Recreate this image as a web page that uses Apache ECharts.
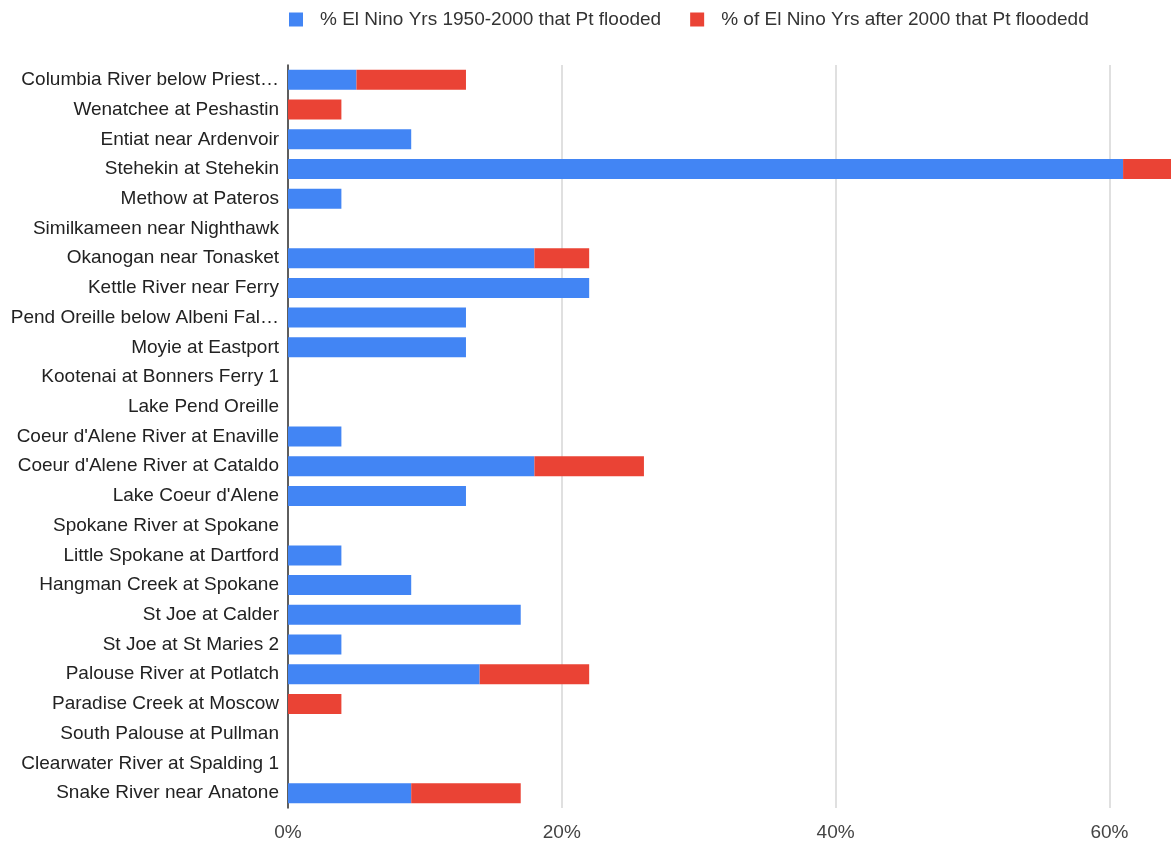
<!DOCTYPE html>
<html>
<head>
<meta charset="utf-8">
<script src="https://cdn.jsdelivr.net/npm/echarts@6/dist/echarts.min.js"></script>
<style>
  html, body { margin: 0; padding: 0; background: #fff; }
  #main { width: 1171px; height: 844px; }
</style>
</head>
<body>
<div id="main"></div>
<script>
// river gauge points, top to bottom
const sites = [
  'Columbia River below Priest…',
  'Wenatchee at Peshastin',
  'Entiat near Ardenvoir',
  'Stehekin at Stehekin',
  'Methow at Pateros',
  'Similkameen near Nighthawk',
  'Okanogan near Tonasket',
  'Kettle River near Ferry',
  'Pend Oreille below Albeni Fal…',
  'Moyie at Eastport',
  'Kootenai at Bonners Ferry 1',
  'Lake Pend Oreille',
  "Coeur d'Alene River at Enaville",
  "Coeur d'Alene River at Cataldo",
  "Lake Coeur d'Alene",
  'Spokane River at Spokane',
  'Little Spokane at Dartford',
  'Hangman Creek at Spokane',
  'St Joe at Calder',
  'St Joe at St Maries 2',
  'Palouse River at Potlatch',
  'Paradise Creek at Moscow',
  'South Palouse at Pullman',
  'Clearwater River at Spalding 1',
  'Snake River near Anatone'
];

// % of El Nino years 1950-2000 that the point flooded
const before2000 = [5, 0, 9, 61, 3.9, 0, 18, 22, 13, 13, 0, 0, 3.9, 18, 13, 0, 3.9, 9, 17, 3.9, 14, 0, 0, 0, 9];
// % of El Nino years after 2000 that the point flooded
const after2000 = [8, 3.9, 0, 8, 0, 0, 4, 0, 0, 0, 0, 0, 0, 8, 0, 0, 0, 0, 0, 0, 8, 3.9, 0, 0, 8];

const seriesNames = [
  '% El Nino Yrs 1950-2000 that Pt flooded',
  '% of El Nino Yrs after 2000 that Pt floodedd'
];

const xTicks = { min: 0, max: 64.5, step: 20 };

const font = 'Liberation Sans, Arial, sans-serif';

myChart = echarts.init(document.getElementById('main'));
myChart.setOption({
  animation: false,
  textStyle: { fontFamily: font },
  legend: {
    top: 5,
    left: 284,
    itemWidth: 14,
    itemHeight: 14,
    itemGap: 29,
    icon: 'rect',
    textStyle: { fontSize: 19, color: '#333', padding: [0, 0, 0, 12] },
    data: seriesNames
  },
  grid: { left: 288, right: 0, top: 65, bottom: 36 },
  xAxis: {
    type: 'value',
    min: xTicks.min,
    max: xTicks.max,
    interval: xTicks.step,
    axisLine: { show: false },
    axisTick: { show: false },
    splitLine: { showMaxLine: false, lineStyle: { color: '#e0e0e0', width: 2 } },
    axisLabel: {
      color: '#444',
      fontSize: 19,
      margin: 15,
      showMaxLabel: false,
      formatter: v => v + '%'
    }
  },
  yAxis: {
    type: 'category',
    inverse: true,
    data: sites,
    axisLine: { lineStyle: { color: '#333', width: 1.5 } },
    axisTick: { show: false },
    axisLabel: { color: '#222', fontSize: 19, margin: 9 }
  },
  series: [
    {
      name: seriesNames[0],
      type: 'bar',
      stack: 'total',
      barWidth: 20,
      itemStyle: { color: '#4285F4' },
      data: before2000
    },
    {
      name: seriesNames[1],
      type: 'bar',
      stack: 'total',
      barWidth: 20,
      itemStyle: { color: '#EA4335' },
      data: after2000
    }
  ]
});
</script>
</body>
</html>
